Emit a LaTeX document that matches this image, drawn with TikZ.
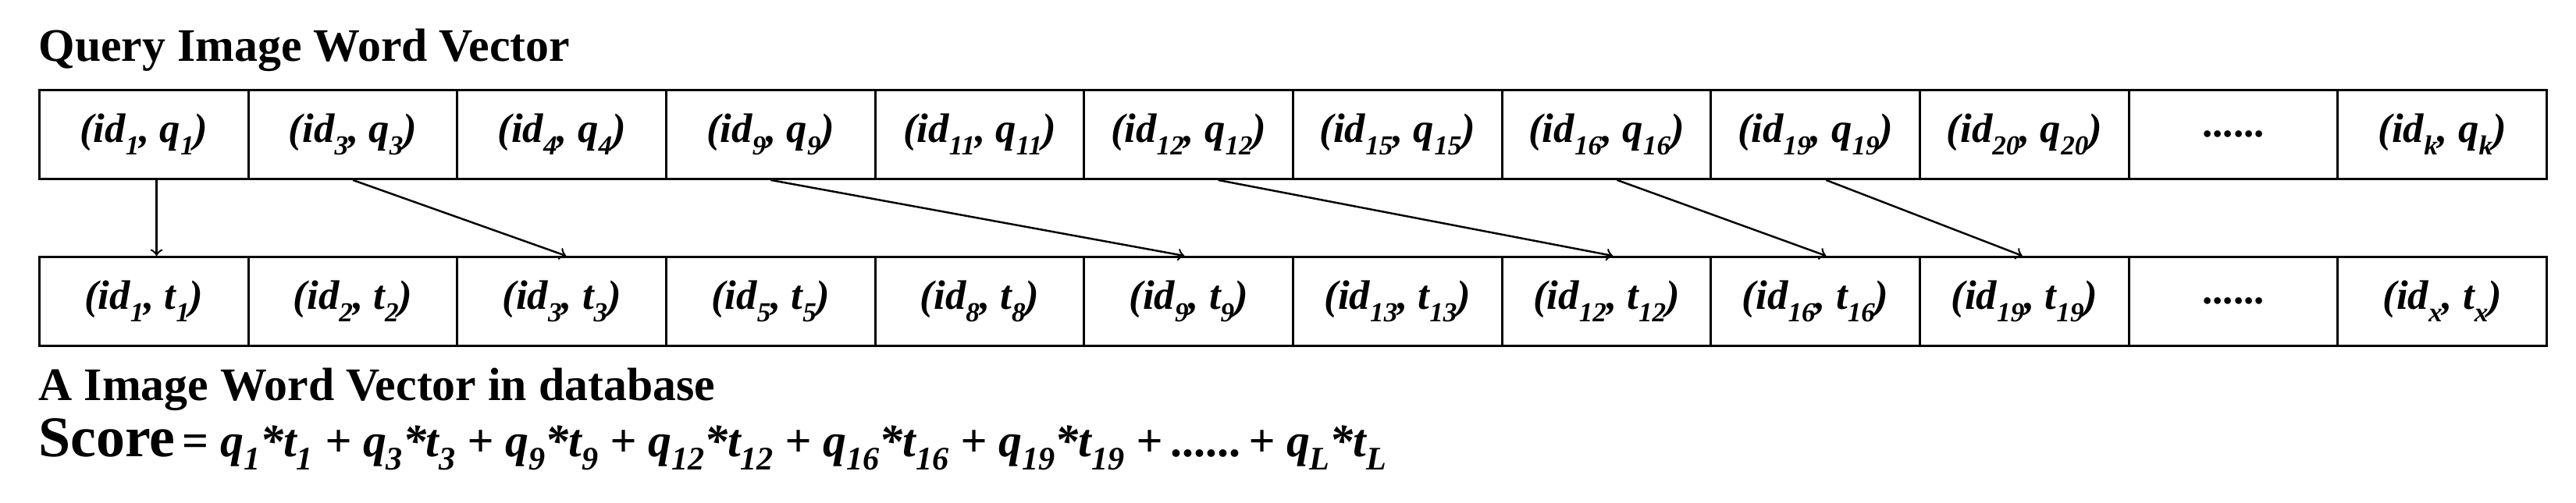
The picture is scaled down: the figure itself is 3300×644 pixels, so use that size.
\documentclass[tikz,border=0pt]{standalone}
\usepackage{fontspec}
\setmainfont{Liberation Serif}
\usetikzlibrary{calc}
\newcommand{\sbx}[1]{\raisebox{-0.3em}{\fontsize{10}{10}\selectfont #1}}
\newcommand{\sbf}[1]{\raisebox{-0.3em}{\fontsize{12}{12}\selectfont #1}}
\newcommand{\sixdots}{{\upshape ......}}
\begin{document}
\begin{tikzpicture}[x=0.01cm,y=-0.01cm,
  cell/.style={draw,line width=0.8pt,minimum width=2.677cm,minimum height=1.14cm,inner sep=0pt,anchor=north west,font=\fontsize{15}{15}\selectfont\bfseries\itshape},
  title/.style={anchor=base west,inner sep=0pt,font=\fontsize{17}{17}\selectfont\bfseries},
  arr/.style={-to,line width=0.7pt}]
\useasboundingbox (0,0) rectangle (3300,644);
\node[title] (tq) at (49,78) {Query Image Word Vector};
\node[title] (td) at (49,513) {A Image Word Vector in database};
\node[anchor=base west,inner sep=0pt] (sc) at (49,585) {{\fontsize{21}{21}\selectfont\bfseries Score} {\fontsize{17}{17}\selectfont\bfseries = \itshape q\sbf{1}*t\sbf{1} + q\sbf{3}*t\sbf{3} + q\sbf{9}*t\sbf{9} + q\sbf{12}*t\sbf{12} + q\sbf{16}*t\sbf{16} + q\sbf{19}*t\sbf{19} +\,\sixdots\,+ q\sbf{L}*t\sbf{L}}};
\foreach \t [count=\i from 0] in {{(id\sbx{1}, q\sbx{1})},{(id\sbx{3}, q\sbx{3})},{(id\sbx{4}, q\sbx{4})},{(id\sbx{9}, q\sbx{9})},{(id\sbx{11}, q\sbx{11})},{(id\sbx{12}, q\sbx{12})},{(id\sbx{15}, q\sbx{15})},{(id\sbx{16}, q\sbx{16})},{(id\sbx{19}, q\sbx{19})},{(id\sbx{20}, q\sbx{20})},{\sixdots},{(id\sbx{k}, q\sbx{k})}}
  \node[cell] (a\i) at (49+267.67*\i,114) {\t};
\foreach \t [count=\i from 0] in {{(id\sbx{1}, t\sbx{1})},{(id\sbx{2}, t\sbx{2})},{(id\sbx{3}, t\sbx{3})},{(id\sbx{5}, t\sbx{5})},{(id\sbx{8}, t\sbx{8})},{(id\sbx{9}, t\sbx{9})},{(id\sbx{13}, t\sbx{13})},{(id\sbx{12}, t\sbx{12})},{(id\sbx{16}, t\sbx{16})},{(id\sbx{19}, t\sbx{19})},{\sixdots},{(id\sbx{x}, t\sbx{x})}}
  \node[cell] (b\i) at (49+267.67*\i,328) {\t};
\draw[arr] ($(a0.south west)!0.56!(a0.south east)$) -- ($(b0.north west)!0.56!(b0.north east)$);
\draw[arr] ($(a1.south west)!0.5!(a1.south east)$) -- ($(b2.north west)!0.52!(b2.north east)$);
\draw[arr] ($(a3.south west)!0.5!(a3.south east)$) -- ($(b5.north west)!0.48!(b5.north east)$);
\draw[arr] ($(a5.south west)!0.64!(a5.south east)$) -- ($(b7.north west)!0.53!(b7.north east)$);
\draw[arr] ($(a7.south west)!0.55!(a7.south east)$) -- ($(b8.north west)!0.55!(b8.north east)$);
\draw[arr] ($(a8.south west)!0.55!(a8.south east)$) -- ($(b9.north west)!0.49!(b9.north east)$);
\end{tikzpicture}
\end{document}
